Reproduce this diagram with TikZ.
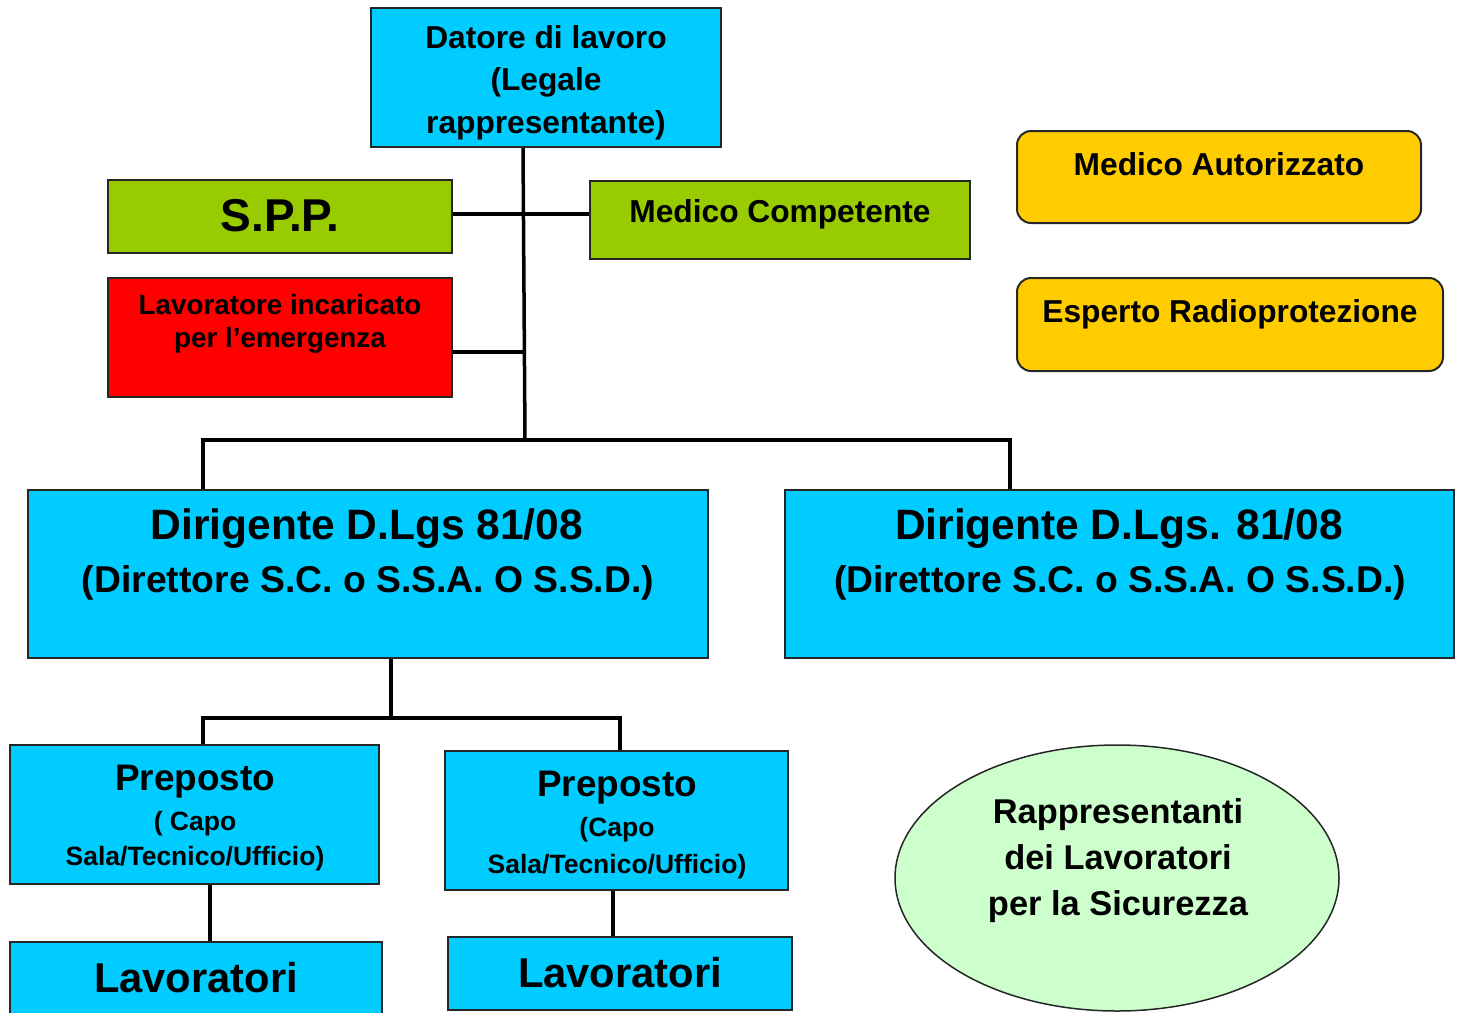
\documentclass[tikz,border=0pt]{standalone}
\usepackage{fontspec}
\setmainfont{Liberation Sans}
\usetikzlibrary{shapes.geometric}
\definecolor{cyanbox}{HTML}{00CCFF}
\definecolor{greenbox}{HTML}{99CC00}
\definecolor{redbox}{HTML}{FF0000}
\definecolor{yellowbox}{HTML}{FFCC00}
\definecolor{paleg}{HTML}{CCFFCC}
\newcommand{\fs}[2]{\fontsize{#1pt}{#2pt}\selectfont}
\begin{document}
\begin{tikzpicture}[x=1pt,y=-1pt,
  box/.style={draw=black!85,line width=2pt,rectangle,inner sep=0pt,minimum width=#1},
  rbox/.style={draw=black!85,line width=2pt,rectangle,rounded corners=14pt,inner sep=0pt},
  txt/.style={inner sep=0pt,align=center,font=\bfseries},
  conn/.style={line width=3.5pt,black}]
\useasboundingbox (0,0) rectangle (1461,1012);
% boxes
\node[box=350pt,minimum height=139pt,fill=cyanbox] (dat) at (546,77.5) {};
\node[box=344pt,minimum height=73pt,fill=greenbox] (spp) at (280,216.5) {};
\node[box=380pt,minimum height=78pt,fill=greenbox] (mc) at (780,220) {};
\node[box=344pt,minimum height=119pt,fill=redbox] (lie) at (280,337.5) {};
\node[rbox,minimum width=404pt,minimum height=92pt,fill=yellowbox] (ma) at (1219,177) {};
\node[rbox,minimum width=426pt,minimum height=93pt,fill=yellowbox] (er) at (1230,324.5) {};
\node[box=680pt,minimum height=168pt,fill=cyanbox] (dir1) at (368,574) {};
\node[box=669pt,minimum height=168pt,fill=cyanbox] (dir2) at (1119.5,574) {};
\node[box=369pt,minimum height=139pt,fill=cyanbox] (pre1) at (194.5,814.5) {};
\node[box=343pt,minimum height=139pt,fill=cyanbox] (pre2) at (616.5,820.5) {};
\node[box=372pt,minimum height=90pt,fill=cyanbox] (lav1) at (196,987) {};
\node[box=344pt,minimum height=73pt,fill=cyanbox] (lav2) at (620,973.5) {};
\node[ellipse,draw=black!85,line width=1.5pt,fill=paleg,minimum width=444pt,minimum height=266pt,inner sep=0pt] (rls) at (1117,878) {};
% texts
\node[txt,font=\bfseries\fs{31.7}{42.5}] (datT) at (546,82.5) {Datore di lavoro\\(Legale\\rappresentante)};
\node[txt,font=\bfseries\fs{46}{50}] (sppT) at (280,216) {S.P.P.};
\node[txt,font=\bfseries\fs{31.7}{40}] (mcT) at (780,214) {Medico Competente};
\node[txt,font=\bfseries\fs{27.8}{33}] (lieT) at (280,324) {Lavoratore incaricato\\per l’emergenza};
\node[txt,font=\bfseries\fs{31.7}{40}] (maT) at (1219,164) {Medico Autorizzato};
\node[txt,font=\bfseries\fs{31.7}{40}] (erT) at (1230,314) {Esperto Radioprotezione};
\node[txt,font=\bfseries\fs{42.5}{50}] (dir1a) at (367,529) {Dirigente D.Lgs 81/08};
\node[txt,font=\bfseries\fs{37.3}{46}] (dir1b) at (368,583) {(Direttore S.C. o S.S.A. O S.S.D.)};
\node[txt,font=\bfseries\fs{42.5}{50}] (dir2a) at (1119,529) {Dirigente D.Lgs. 81/08};
\node[txt,font=\bfseries\fs{37.3}{46}] (dir2b) at (1120,583) {(Direttore S.C. o S.S.A. O S.S.D.)};
\node[txt,font=\bfseries\fs{36.9}{44}] (pre1a) at (195,782) {Preposto};
\node[txt,font=\bfseries\fs{26.5}{35}] (pre1b) at (195,841) {( Capo\\Sala/Tecnico/Ufficio)};
\node[txt,font=\bfseries\fs{36.9}{44}] (pre2a) at (617,788) {Preposto};
\node[txt,font=\bfseries\fs{26.5}{37}] (pre2b) at (617,848) {(Capo\\Sala/Tecnico/Ufficio)};
\node[txt,font=\bfseries\fs{41.7}{50}] (lav1T) at (196,978) {Lavoratori};
\node[txt,font=\bfseries\fs{41.7}{50}] (lav2T) at (620,973) {Lavoratori};
\node[txt,font=\bfseries\fs{34.4}{46}] (rlsT) at (1118,861) {Rappresentanti\\dei Lavoratori\\per la Sicurezza};
% connector coordinates
\coordinate (busT) at (525,440);
\coordinate (busL) at (203,440);
\coordinate (busR) at (1010,440);
\coordinate (bus2) at (391,718);
\coordinate (bus2L) at (203,718);
\coordinate (bus2R) at (620,718);
% connectors
\draw[conn] (dat.south -| 523,0) -- (busT);
\draw[conn] (spp.east |- 0,214) -- (mc.west |- 0,214);
\draw[conn] (lie.east |- 0,352) -- (523,352);
\draw[conn] (busL |- dir1.north) -- (busL) -- (busR) -- (busR |- dir2.north);
\draw[conn] (dir1.south -| bus2) -- (bus2);
\draw[conn] (bus2L |- pre1.north) -- (bus2L) -- (bus2R) -- (bus2R |- pre2.north);
\draw[conn] (pre1.south -| 210,0) -- (lav1.north -| 210,0);
\draw[conn] (pre2.south -| 613,0) -- (lav2.north -| 613,0);
\end{tikzpicture}
\end{document}
